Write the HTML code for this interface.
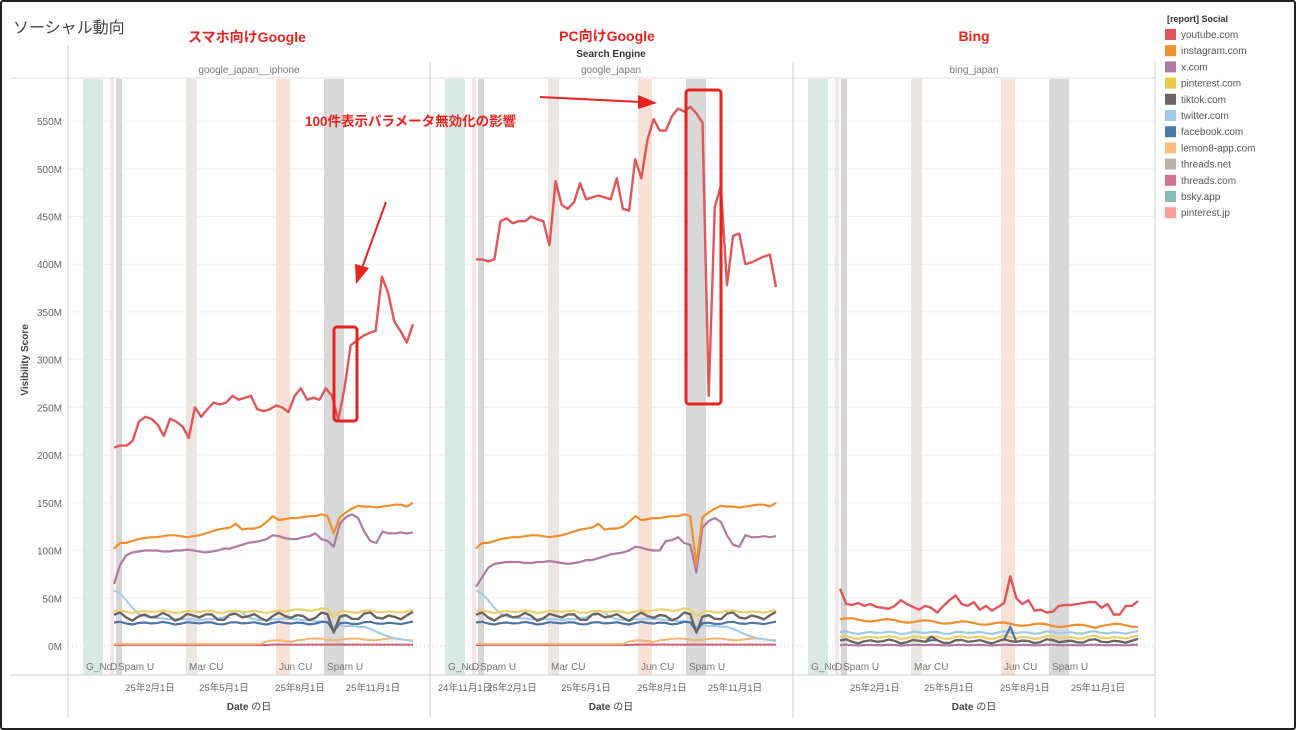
<!DOCTYPE html>
<html><head><meta charset="utf-8">
<style>
html,body{margin:0;padding:0;background:#fff;}
body{width:1296px;height:730px;overflow:hidden;font-family:"Liberation Sans","Noto Sans CJK JP",sans-serif;}
#frame{position:absolute;left:0;top:0;width:1292px;height:726px;border:2px solid #222;border-radius:3px;}
svg text{font-family:"Liberation Sans","Noto Sans CJK JP",sans-serif;}
</style></head>
<body>
<div id="frame"></div>
<svg id="s" width="1296" height="730" style="position:absolute;left:0;top:0"></svg>
<script>
var S=document.getElementById('s');var h='';
function Y(v){return 646-v*0.9545;}
for(var i=1;i<=11;i++){var y=Y(i*50);h+='<line x1="68" x2="1155" y1="'+y+'" y2="'+y+'" stroke="#f1f1f1" stroke-width="1"/>';
h+='<text x="62" y="'+(y+4)+'" font-size="10" fill="#666" text-anchor="end">'+(i*50)+'M</text>';}
h+='<line x1="68" x2="1155" y1="646" y2="646" stroke="#ccc" stroke-dasharray="1,3"/>';
h+='<text x="62" y="650" font-size="10" fill="#666" text-anchor="end">0M</text>';
var bands=[[15,20,'#dbe9e5'],[42,4,'#f2e6ec'],[48,6,'#d6d6d6'],[118,11,'#ece6e3'],[208,14,'#f8e2d8'],[256,20,'#d8d8d8']];
var offs=[68,430,793];
offs.forEach(function(o){bands.forEach(function(b){h+='<rect x="'+(o+b[0])+'" y="79" width="'+b[1]+'" height="596" fill="'+b[2]+'"/>';});
 [['G_No',18],['D',42],['Spam U',50],['Mar CU',121],['Jun CU',211],['Spam U',259]].forEach(function(t){h+='<text x="'+(o+t[1])+'" y="670" font-size="10" fill="#777">'+t[0]+'</text>';});
 h+='<text x="'+(o+181)+'" y="710" font-size="10" fill="#444" text-anchor="middle"><tspan font-weight="bold">Date</tspan> の日</text>';
 [['25年2月1日',82],['25年5月1日',156],['25年8月1日',232],['25年11月1日',305]].forEach(function(t){h+='<text x="'+(o+t[1])+'" y="691" font-size="9.5" fill="#666" text-anchor="middle">'+t[0]+'</text>';});
});
h+='<text x="465" y="691" font-size="9.5" fill="#666" text-anchor="middle">24年11月1日</text>';
h+='<line x1="10" x2="1155" y1="78" y2="78" stroke="#ddd"/>';
h+='<line x1="10" x2="1155" y1="675" y2="675" stroke="#ccc"/>';
[68,430,793,1155].forEach(function(x,i){h+='<line x1="'+x+'" x2="'+x+'" y1="'+(i==0?45:62)+'" y2="718" stroke="#ccc"/>';});
h+='<text x="249" y="73" font-size="10" fill="#777" text-anchor="middle">google_japan__iphone</text>';
h+='<text x="611" y="73" font-size="10" fill="#777" text-anchor="middle">google_japan</text>';
h+='<text x="974" y="73" font-size="10" fill="#777" text-anchor="middle">bing_japan</text>';
h+='<text x="611" y="57" font-size="10" fill="#333" font-weight="bold" text-anchor="middle">Search Engine</text>';
h+='<text transform="translate(28,360) rotate(-90)" font-size="10" fill="#444" font-weight="bold" text-anchor="middle">Visibility Score</text>';
h+='<text x="13" y="33" font-size="16" fill="#444">ソーシャル動向</text>';
function line(x0,x1,d,c,w){var n=d.length,p='';for(var i=0;i<n;i++){var x=x0+(x1-x0)*i/(n-1);p+=(i?'L':'M')+x.toFixed(1)+','+Y(d[i]).toFixed(1);}
 h+='<path d="'+p+'" fill="none" stroke="'+c+'" stroke-width="'+(w||2.2)+'" stroke-linejoin="round"/>';}
function flat(n,v,amp){var a=[];for(var i=0;i<n;i++){a.push(v+amp*Math.sin(i*1.7)+amp*0.6*Math.cos(i*0.9));}return a;}
var N=50,D=36;
var TW=[58,55,48,40,34,31,30,29,29,28,28,28,28,28,27,28,28,29,30,33,37,35,30,28,27,27,28,28,29,28,28,27,27,26,26,25,20,22,21,21,20,20,18,15,12,10,8,7,6,5];
function googleSmall(x0,x1){
 line(x0,x1,flat(N,1,0).map(function(v,i){return i>25?1.5:1;}),'#d0607a',2);
 line(x0,x1,flat(N,2,0).map(function(v,i){return i<25?2:(i<30?5:7)+Math.sin(i)*1;}),'#f7b46e',2);
 line(x0,x1,TW,'#9fcbe6',2);
 line(x0,x1,flat(N,24,1).map(function(v,i){return i==D?v-8:v;}),'#4e74a4',2.2);
 line(x0,x1,flat(N,31,3).map(function(v,i){return i==D?14:v;}),'#6b6464',2.4);
 line(x0,x1,flat(N,36,1).map(function(v,i){return i==D?31:v+(i>28&&i<36?2:0);}),'#ecd06a',2.2);
}
googleSmall(114,413);googleSmall(476,776);
var xc1=[65,85,95,98,99,100,100,100,99,99,100,100,101,100,99,98,99,100,102,102,104,106,108,109,110,112,116,115,113,112,112,114,115,118,112,110,104,128,135,138,134,120,110,108,120,118,118,119,118,119];
var ig1=[102,108,108,110,112,113,114,114,115,116,116,115,114,115,116,118,120,122,123,124,128,122,123,123,125,130,136,132,133,134,134,135,136,136,138,136,118,135,140,144,147,146,146,145,146,147,148,148,146,150];
line(114,413,xc1,'#b07aa1');line(114,413,ig1,'#f28e2b');
var xc2=xc1.map(function(v,i){return i==D?77:(i<3?62+i*10:v-12+(i>30?8:0));});
var ig2=ig1.map(function(v,i){return i==D?85:v;});
line(476,776,xc2,'#b07aa1');line(476,776,ig2,'#f28e2b');
var yt1=[208,210,210,215,235,240,238,232,220,238,235,230,218,250,240,248,255,253,255,262,258,260,262,248,246,248,252,250,245,262,270,258,260,258,270,262,237,270,315,320,325,328,330,387,370,340,330,318,337];
line(114,413,yt1,'#e15759',2.4);
var yt2=[405,405,403,405,445,448,443,445,445,450,447,445,420,487,462,458,465,485,468,470,472,470,468,490,458,456,510,490,530,552,540,540,555,563,560,565,558,548,262,460,482,378,430,432,400,402,405,408,410,376];
line(476,776,yt2,'#e15759',2.4);
var by=[60,44,43,45,42,44,41,40,39,42,48,44,41,38,42,40,35,42,48,53,44,42,46,38,42,37,41,45,73,50,44,48,37,38,35,36,42,43,43,44,45,46,46,40,44,33,33,42,42,47];
line(840,1138,by,'#e15759',2.4);
line(840,1138,by.map(function(v,i){return 28-i*0.18+Math.sin(i)*1.5+(i>42?2:0);}),'#f28e2b');
line(840,1138,flat(N,14,1),'#9fcbe6');
line(840,1138,flat(N,9,1.2),'#ecd06a');
line(840,1138,flat(N,5,1.5).map(function(v,i){return i==28?20:v;}),'#4e74a4');
line(840,1138,flat(N,5,1.5).map(function(v,i){return i==15?10:v;}),'#6b6464');
line(840,1138,flat(N,1,0.3),'#b07aa1');
h+='<text x="247" y="42" font-size="14" font-weight="bold" fill="#e8231f" text-anchor="middle">スマホ向けGoogle</text>';
h+='<text x="607" y="41" font-size="14" font-weight="bold" fill="#e8231f" text-anchor="middle">PC向けGoogle</text>';
h+='<text x="974" y="41" font-size="14" font-weight="bold" fill="#e8231f" text-anchor="middle">Bing</text>';
h+='<text x="305" y="126" font-size="13.5" font-weight="bold" fill="#e8231f">100件表示パラメータ無効化の影響</text>';
h+='<rect x="334" y="327" width="23" height="94" rx="3" fill="none" stroke="#e8231f" stroke-width="3"/>';
h+='<rect x="686" y="90" width="35" height="314" rx="3" fill="none" stroke="#e8231f" stroke-width="3"/>';
h+='<line x1="386" y1="202" x2="362" y2="268" stroke="#e8231f" stroke-width="2"/><polygon points="356,284 355,264 369,268" fill="#e8231f"/>';
h+='<line x1="540" y1="97" x2="640" y2="102" stroke="#e8231f" stroke-width="2"/><polygon points="657,103 638,95 638,109" fill="#e8231f"/>';
h+='<text x="1167" y="22" font-size="9" font-weight="bold" fill="#333">[report]  Social</text>';
var L=[['youtube.com','#e15759'],['instagram.com','#f28e2b'],['x.com','#b07aa1'],['pinterest.com','#edc948'],['tiktok.com','#6b6464'],['twitter.com','#9fcbe6'],['facebook.com','#4e79a7'],['lemon8-app.com','#ffbe7d'],['threads.net','#bab0ac'],['threads.com','#d37295'],['bsky.app','#86bcb6'],['pinterest.jp','#ff9d9a']];
L.forEach(function(l,i){var y=29+i*16.2;h+='<rect x="1165" y="'+y+'" width="11" height="11" fill="'+l[1]+'"/><text x="1181" y="'+(y+9)+'" font-size="10" fill="#555">'+l[0]+'</text>';});
S.innerHTML=h;
</script>
</body></html>
